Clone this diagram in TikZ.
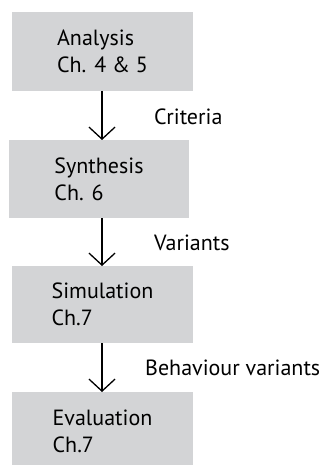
\documentclass[tikz,border=0pt]{standalone}
\usepackage{fontspec}
\setmainfont{PT Sans}
\usetikzlibrary{arrows.meta}
\definecolor{boxgray}{RGB}{211,212,214}
\begin{document}
\begin{tikzpicture}[x=1pt,y=-1pt,
  stagebox/.style={fill=boxgray,draw=none,minimum width=181pt,minimum height=79pt,
    inner sep=0pt,align=left,font=\fontsize{22}{27}\selectfont},
  flowarrow/.style={draw=black,line width=1.3pt,-{Straight Barb[length=12pt,width=26pt,line width=1.3pt]}},
  lbl/.style={anchor=west,inner sep=0pt,font=\fontsize{22}{24}\selectfont}]
\useasboundingbox (0,0) rectangle (326,465);
\node[stagebox] (a) at (102.5,51.5) {Analysis\\Ch. 4 \& 5};
\node[stagebox,minimum width=180pt,minimum height=78pt] (s) at (99,179) {Synthesis\\Ch. 6};
\node[stagebox,minimum height=77pt] (m) at (102.5,304.5) {Simulation\\Ch.7};
\node[stagebox] (e) at (102.5,431.5) {Evaluation\\Ch.7};
\coordinate (a1) at (102,91); \coordinate (s0) at (102,140);
\coordinate (s1) at (102,218); \coordinate (m0) at (102,266);
\coordinate (m1) at (102,343); \coordinate (e0) at (102,392);
\draw[flowarrow] (a1) -- (s0);
\draw[flowarrow] (s1) -- (m0);
\draw[flowarrow] (m1) -- (e0);
\node[lbl] (l1) at (154,117) {Criteria};
\node[lbl] (l2) at (154,243) {Variants};
\node[lbl] (l3) at (145,368) {Behaviour variants};
\end{tikzpicture}
\end{document}
